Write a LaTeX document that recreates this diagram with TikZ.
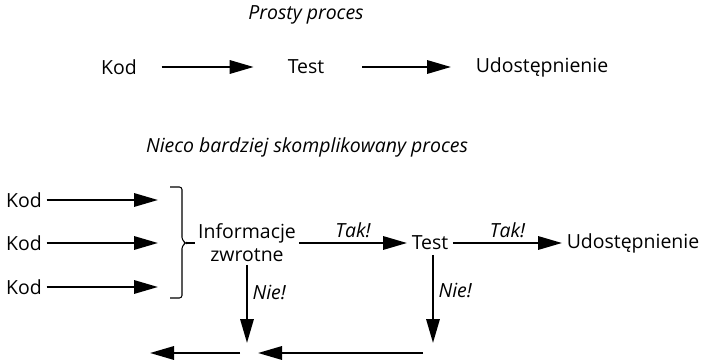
\documentclass[tikz,border=0pt]{standalone}
\usepackage{fontspec}
\setmainfont{Open Sans}
\usetikzlibrary{arrows.meta}

\begin{document}
\begin{tikzpicture}[x=0.75pt,y=-0.75pt,
    every node/.style={font=\fontsize{14.6}{17.25}\selectfont},
    arr/.style={line width=1.7pt,-{Triangle[length=18pt,width=10pt]}},
    lbl/.style={font=\fontsize{14.6}{17.25}\selectfont\itshape}]
      \useasboundingbox (0,0) rectangle (701,360);
      % simple process
      \node[lbl] (t1) at (306,15) {Prosty proces};
      \node (k0) at (119,67) {Kod};
      \node (s0) at (306,67) {Test};
      \node (u0) at (542,67) {Udostępnienie};
      \draw[arr, shorten <=15pt, shorten >=22pt] (k0) -- (s0);
      \draw[arr, shorten <=25pt, shorten >=15pt] (s0) -- (u0);
      % more complicated process
      \node[lbl] (t2) at (307,147) {Nieco bardziej skomplikowany proces};
      \node (k1) at (24,200) {Kod};
      \node (k2) at (24,243) {Kod};
      \node (k3) at (24,287) {Kod};
      \coordinate (e1) at (158,200);
      \coordinate (e2) at (158,243);
      \coordinate (e3) at (158,287);
      \draw[arr] (k1) -- (e1);
      \draw[arr] (k2) -- (e2);
      \draw[arr] (k3) -- (e3);
      % bracket
      \draw[line width=0.8pt, rounded corners=2pt]
        (170,187) -- (182,187) -- (182,240) -- (186,243) -- (182,246)
        -- (182,298) -- (170,298);
      \draw[line width=0.8pt] (186,243) -- (195,243);
      \node[align=center, inner sep=2pt] (inf) at (247,243) {Informacje\\zwrotne};
      \node (s1) at (430,243) {Test};
      \node (u1) at (633,243) {Udostępnienie};
      % horizontal lines
      \draw[arr] (inf) -- node[lbl, above] {Tak!} (s1);
      \draw[arr] (s1) -- node[lbl, above] {Tak!} (u1);
      % vertical lines
      \coordinate (d1) at (247,343);
      \coordinate (d2) at (433,343);
      \draw[arr] (inf.south) -- node[lbl, right, pos=0.35] {Nie!} (d1);
      \draw[arr] ([xshift=2.25pt]s1.south) -- node[lbl, right, pos=0.4] {Nie!} (d2);
      % back to the start
      \coordinate (b1) at (240,353);
      \coordinate (b2) at (150,353);
      \coordinate (b3) at (423,353);
      \coordinate (b4) at (258,353);
      \draw[arr] (b1) -- (b2);
      \draw[arr] (b3) -- (b4);
    \end{tikzpicture}
\end{document}
